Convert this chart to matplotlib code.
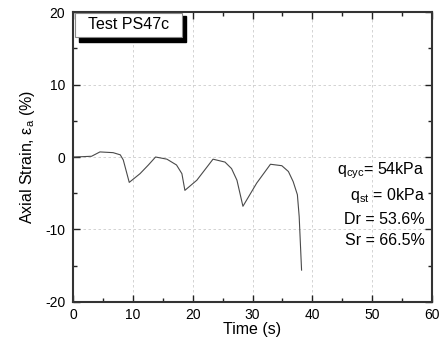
import numpy as np
import matplotlib
matplotlib.use('Agg')
import matplotlib.pyplot as plt
from matplotlib.ticker import MultipleLocator

plt.rcParams['font.family'] = ['Liberation Sans', 'DejaVu Sans']
plt.rcParams['mathtext.fontset'] = 'custom'
plt.rcParams['mathtext.rm'] = 'Liberation Sans'
plt.rcParams['mathtext.it'] = 'Liberation Sans'
plt.rcParams['axes.unicode_minus'] = False

# curva
tempo = [0.0, 0.3, 3.1, 4.5, 6.7, 7.9, 8.4, 9.4, 11.2, 12.6, 13.8, 15.7, 17.3,
         18.2, 18.7, 20.7, 23.4, 25.4, 26.5, 27.4, 28.4, 30.7, 33.0, 34.9,
         36.0, 36.8, 37.5, 37.8, 38.2]
deform = [0.0, 0.0, 0.1, 0.7, 0.6, 0.3, -0.4, -3.5, -2.3, -1.1, 0.0, -0.3, -1.1,
          -2.3, -4.6, -3.2, -0.3, -0.7, -1.6, -3.2, -6.8, -3.6, -1.0, -1.2,
          -2.0, -3.4, -5.2, -8.2, -15.6]

info = [r'q$_{\rm cyc}$= 54kPa', r'q$_{\rm st}$ = 0kPa', 'Dr = 53.6%', 'Sr = 66.5%']

fig = plt.figure(figsize=(4.44, 3.44), dpi=100)
ax = fig.add_axes([0.1644, 0.1221, 0.8086, 0.843])

ax.plot(tempo, deform, color='#4a4a4a', lw=0.8)

ax.set_xlim(0, 60)
ax.set_ylim(-20, 20)
ax.xaxis.set_major_locator(MultipleLocator(10))
ax.xaxis.set_minor_locator(MultipleLocator(5))
ax.yaxis.set_major_locator(MultipleLocator(10))
ax.yaxis.set_minor_locator(MultipleLocator(5))
ax.tick_params(which='both', direction='in', top=True, right=True, labelsize=10,
               width=1.0, color='#222222')
ax.tick_params(axis='x', pad=4.5)
ax.tick_params(axis='y', pad=5.5)
ax.tick_params(which='major', length=5)
ax.tick_params(which='minor', length=3)
for s in ax.spines.values():
    s.set_linewidth(1.5)
    s.set_color('#333333')
ax.grid(True, which='major', ls=(0, (3, 3)), color='#cccccc', lw=0.6)

ax.set_xlabel('Time (s)', fontsize=11.5, labelpad=0)
ax.set_ylabel(r'Axial Strain, ε$_{\rm a}$ (%)', fontsize=11.5, labelpad=6)

# caixa do titulo com sombra
sombra = plt.Rectangle((0.0167, 0.8976), 0.298, 0.088, transform=ax.transAxes,
                       color='black', zorder=4, clip_on=False)
caixa = plt.Rectangle((0.0056, 0.915), 0.297, 0.0826, transform=ax.transAxes,
                      fc='white', ec='#888888', lw=0.8, zorder=5, clip_on=False)
ax.add_patch(sombra)
ax.add_patch(caixa)
ax.text(0.154, 0.956, 'Test PS47c', transform=ax.transAxes, fontsize=11.5,
        ha='center', va='center', zorder=6)

ys = [0.452, 0.367, 0.283, 0.213]
for txt, y in zip(info, ys):
    ax.text(0.98, y, txt, transform=ax.transAxes, fontsize=11.5, ha='right', va='center')

fig.savefig('out.png', dpi=100)
